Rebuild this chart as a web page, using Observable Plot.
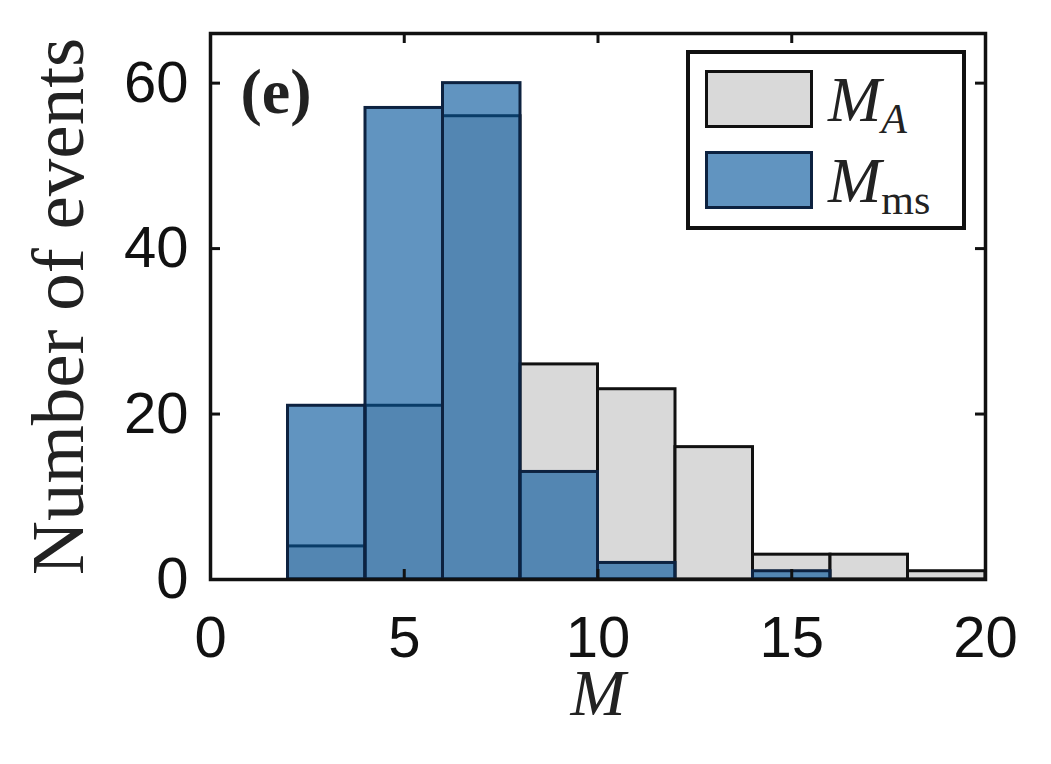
<!DOCTYPE html>
<html>
<head>
<meta charset="utf-8">
<script src="https://cdn.jsdelivr.net/npm/d3@7"></script>
<script src="https://cdn.jsdelivr.net/npm/@observablehq/plot@0.6"></script>
<style>
  html, body { margin: 0; padding: 0; background: #fff; }
  #wrap { position: relative; width: 1051px; height: 764px; }
  #legend { position: absolute; left: 686px; top: 50px; width: 272px; height: 172px;
            border: 4px solid #111; background: #fff; box-sizing: content-box; }
  .sw { position: absolute; left: 15px; width: 108px; height: 58px; box-sizing: border-box; border: 3.5px solid #111; }
  .lab { position: absolute; left: 138px; font-family: "Liberation Serif", "DejaVu Serif", serif; font-size: 64px; line-height: 1; white-space: nowrap; color: #222; }
  .lab i { font-style: italic; }
  .lab sub { font-size: 42px; vertical-align: baseline; position: relative; top: 12px; }
</style>
</head>
<body>
<div id="wrap"></div>
<script>
// Histogram bins (M)
const binLo = [2, 4, 6, 8, 10, 12, 14, 16, 18];
const binHi = [4, 6, 8, 10, 12, 14, 16, 18, 20];
// Counts per bin
const countA  = [4, 21, 56, 26, 23, 16, 3, 3, 1];   // M_A
const countMs = [21, 57, 60, 13, 2, 0, 1, 0, 0];    // M_ms
// Axis ticks
const xTicks = [0, 5, 10, 15, 20];
const yTicks = [0, 20, 40, 60];

const seriesA = binLo.map((lo, i) => ({lo, hi: binHi[i], n: countA[i]}));
const seriesMs = binLo.map((lo, i) => ({lo, hi: binHi[i], n: countMs[i]})).filter(d => d.n > 0);

const W = 1051, H = 764, mL = 210, mR = 66, mT = 33, mB = 185;
const plotH = H - mT - mB, plotW = W - mL - mR;
const tick = 10;

const chart = Plot.plot({
  width: W, height: H,
  marginLeft: mL, marginRight: mR, marginTop: mT, marginBottom: mB,
  style: {fontFamily: "'Liberation Sans', Arial, sans-serif", fontSize: "58px", color: "#111", background: "#fff"},
  x: {domain: [0, 20]},
  y: {domain: [0, 66]},
  marks: [
    Plot.rectY(seriesA, {x1: "lo", x2: "hi", y: "n", fill: "#d9d9d9", stroke: "#111", strokeWidth: 3}),
    Plot.rectY(seriesMs, {x1: "lo", x2: "hi", y: "n", fill: "#05559b", fillOpacity: 0.63, stroke: "#0d2240", strokeWidth: 3}),
    // inward ticks
    Plot.tickX(xTicks, {x: d => d, insetTop: plotH - tick, stroke: "#111", strokeWidth: 3}),
    Plot.tickX(xTicks, {x: d => d, insetBottom: plotH - tick, stroke: "#111", strokeWidth: 3}),
    Plot.tickY(yTicks, {y: d => d, insetRight: plotW - tick, stroke: "#111", strokeWidth: 3}),
    Plot.tickY(yTicks, {y: d => d, insetLeft: plotW - tick, stroke: "#111", strokeWidth: 3}),
    Plot.axisX(xTicks, {tickSize: 0, tickPadding: 36, fontSize: 58, label: null}),
    Plot.axisY(yTicks, {tickSize: 0, tickPadding: 22, fontSize: 58, label: null}),
    Plot.frame({stroke: "#111", strokeWidth: 3.5}),
    Plot.text(["Number of events"], {frameAnchor: "left", rotate: -90, dx: -152, lineAnchor: "middle", textAnchor: "middle",
      fontFamily: "'Liberation Serif', serif", fontSize: 75, fill: "#222"}),
    Plot.text(["M"], {frameAnchor: "bottom", dy: 114, lineAnchor: "middle",
      fontFamily: "'Liberation Serif', serif", fontStyle: "italic", fontSize: 66, fill: "#222"}),
    Plot.text(["(e)"], {frameAnchor: "top-left", dx: 30, dy: 79, lineAnchor: "bottom", textAnchor: "start",
      fontFamily: "'Liberation Serif', serif", fontWeight: "bold", fontSize: 64, fill: "#222"})
  ]
});

const wrap = document.getElementById("wrap");
wrap.appendChild(chart);

const legend = document.createElement("div");
legend.id = "legend";
legend.innerHTML = `
  <div class="sw" style="top:16px; background:#d9d9d9;"></div>
  <div class="lab" style="top:14px;"><i>M</i><sub><i>A</i></sub></div>
  <div class="sw" style="top:97px; background:rgba(5,85,155,0.63); border-color:#0d2240;"></div>
  <div class="lab" style="top:95px;"><i>M</i><sub>ms</sub></div>`;
wrap.appendChild(legend);
</script>
</body>
</html>
